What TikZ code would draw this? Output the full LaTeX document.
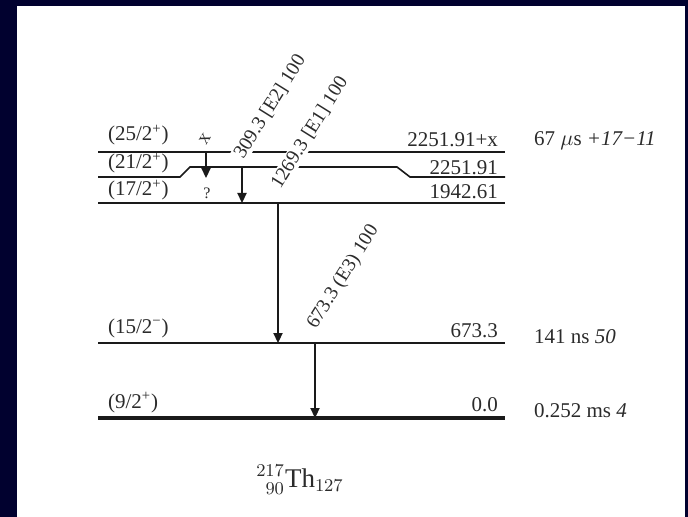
\documentclass[tikz,border=0pt]{standalone}
\usepackage{fontspec}
\setmainfont{Liberation Serif}
\usepackage{tikz}
\usetikzlibrary{arrows.meta}
\definecolor{frame}{HTML}{01012F}
\definecolor{ink}{HTML}{1A1A1A}
\definecolor{txt}{HTML}{2B2B2B}

\begin{document}
\begin{tikzpicture}[x=0.5pt,y=-0.5pt,font=\fontsize{10.5}{12}\selectfont,
  lvl/.style={draw=ink,line width=0.8pt},
  gam/.style={draw=ink,line width=0.7pt,-{Triangle[length=5pt,width=4.6pt]}},
  glab/.style={rotate=58,anchor=south west,fill=white,inner sep=0.5pt,text=txt,
    font=\fontsize{9.8}{12}\selectfont},
  spin/.style={anchor=base west,text=txt},
  en/.style={anchor=base east,text=txt},
  hl/.style={anchor=base west,text=txt}]
\fill[frame] (0,0) rectangle (688,517);
\fill[white] (17,6) rectangle (685,517);

% Levels
\draw[lvl,line width=1pt]   (98,152) -- (505,152);
\draw[lvl] (98,177) -- (180,177) -- (190,167) -- (397,167) -- (410,177) -- (505,177);
\draw[lvl] (98,203) -- (505,203);
\draw[lvl,line width=1pt]   (98,343) -- (505,343);
\draw[lvl,line width=1.7pt] (98,418) -- (505,418);

\node[spin] (s25) at (101,141) {(25/2\textsuperscript{+})};
\node[spin] (s21) at (101,169) {(21/2\textsuperscript{+})};
\node[spin] (s17) at (101,196) {(17/2\textsuperscript{+})};
\node[spin] (s15) at (101,333) {(15/2\textsuperscript{−})};
\node[spin] (s9)  at (101,408) {(9/2\textsuperscript{+})};

\node[en] (e25) at (505,147) {2251.91+x};
\node[en] (e21) at (505,175) {2251.91};
\node[en] (e17) at (505,199) {1942.61};
\node[en] (e15) at (505,337) {673.3};
\node[en] (e0)  at (505,411) {0.0};

\node[hl] (t25) at (527,146) {67 $\mu$s \textit{+17−11}};
\node[hl] (t15) at (527,343) {141 ns \textit{50}};
\node[hl] (t0)  at (527,417) {0.252 ms \textit{4}};

% Transitions
\coordinate (gxa) at (206,152);   \coordinate (gxb) at (206,178);
\coordinate (g309a) at (242,167); \coordinate (g309b) at (242,203);
\coordinate (g1269a) at (278,203); \coordinate (g1269b) at (278,343);
\coordinate (g673a) at (315,343); \coordinate (g673b) at (315,418);

\node[glab,anchor=center] (lx) at (205,139) {x};
\node[glab] (l309)  at (246,163) {309.3 [E2] 100};
\node[glab] (l1269) at (283,193) {1269.3 [E1] 100};
\node[glab] (l673)  at (320,334) {673.3 (E3) 100};
\node[text=txt,font=\footnotesize] (q) at (207,193) {?};

\draw[gam] (gxa) -- (gxb);
\draw[gam] (g309a) -- (g309b);
\draw[gam] (g1269a) -- (g1269b);
\draw[gam] (g673a) -- (g673b);

\node[anchor=base,text=txt,font=\fontsize{13.5}{16}\selectfont] (nuc) at (300,487)
  {${}^{217}_{\phantom{2}90}$Th$_{127}$};
\end{tikzpicture}
\end{document}
